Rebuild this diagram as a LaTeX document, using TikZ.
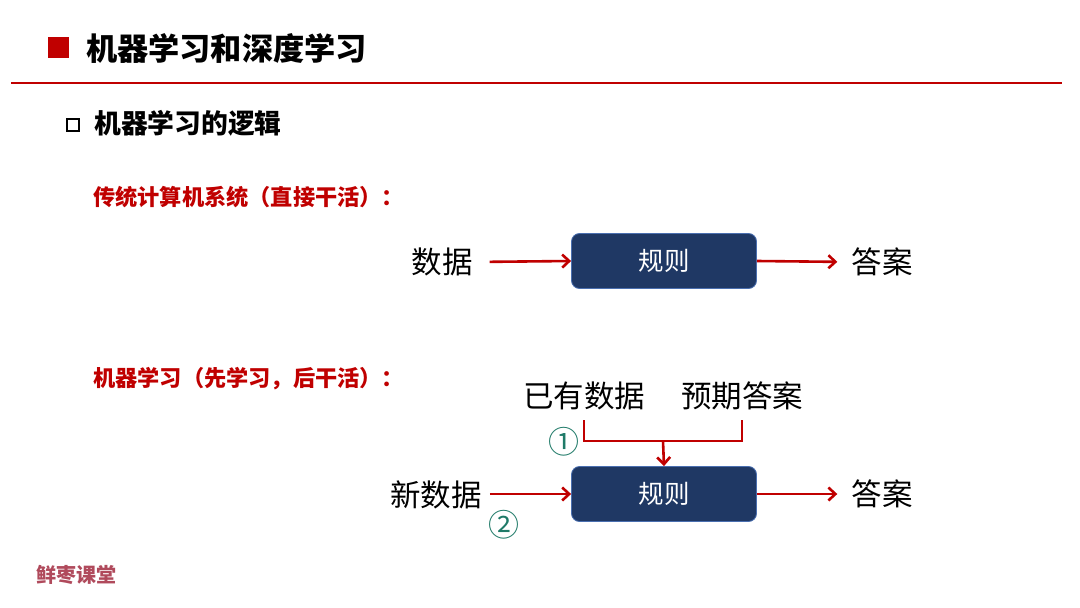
\documentclass[tikz,border=0pt]{standalone}
\usepackage{fontspec}
\setmainfont{Noto Sans CJK SC}
\usetikzlibrary{arrows.meta}
\definecolor{pptred}{HTML}{C00000}
\definecolor{navy}{HTML}{1F3864}
\definecolor{boxedge}{HTML}{4A6FB0}
\definecolor{numgreen}{HTML}{1F7A68}
\definecolor{markred}{HTML}{B04A5C}
\tikzset{
  txt/.style={inner sep=0pt, font=\fontsize{30.5}{34}\selectfont},
  rulebox/.style={draw=boxedge, line width=0.8pt, fill=navy, rounded corners=8pt,
    minimum width=185pt, minimum height=55pt, inner sep=0pt, text=white,
    font=\fontsize{25.5}{30}\selectfont},
  arr/.style={draw=pptred, line width=2.6pt, -{Straight Barb[length=7pt,width=13pt]}},
  rline/.style={draw=pptred, line width=2.6pt},
  num/.style={inner sep=0pt, text=numgreen, font=\fontsize{31}{34}\selectfont},
  subhead/.style={anchor=west, inner sep=0pt, text=pptred, font=\bfseries\fontsize{22.2}{26}\selectfont},
}
\begin{document}
\begin{tikzpicture}[x=1pt,y=-1pt]
\useasboundingbox[fill=white] (0,0) rectangle (1080,608);
% header
\fill[pptred] (48,37) rectangle (69,58);
\node[anchor=west, inner sep=0pt, font=\bfseries\fontsize{31.2}{36}\selectfont] (title) at (86,48) {机器学习和深度学习};
\draw[pptred, line width=2pt] (11,83) -- (1062,83);
\draw[black, line width=2.4pt] (67,119) rectangle (79,131);
\node[anchor=west, inner sep=0pt, font=\bfseries\fontsize{26.8}{31}\selectfont] (sub) at (94,123) {机器学习的逻辑};
\node[subhead] (h1) at (93,197) {传统计算机系统（直接干活）：};
\node[subhead] (h2) at (93,379) {机器学习（先学习，后干活）：};
% top row
\node[rulebox] (r1) at (664,261) {规则};
\node[txt] (d1) at (442,262) {数据};
\node[txt] (a1) at (882,262) {答案};
\draw[arr, shorten <=17pt] (d1.east) -- (r1.west);
\draw[arr, shorten >=14pt] (r1.east) -- (a1.west);
% bottom row
\node[rulebox] (r2) at (664,494) {规则};
\node[txt] (d2) at (436,495) {新数据};
\node[txt] (a2) at (882,494) {答案};
\node[txt] (k1) at (584,396) {已有数据};
\node[txt] (k2) at (742,396) {预期答案};
\coordinate (j) at (663,441);
\draw[rline, shorten <=10pt] (k1.south) |- (j);
\draw[rline, shorten <=10pt] (k2.south) |- (j);
\draw[arr] (j) -- (r2.north);
\draw[arr, shorten <=8pt] (d2.east |- r2.west) -- (r2.west);
\draw[arr, shorten >=14pt] (r2.east) -- (a2.west);
\node[num] (n1) at (564,442) {①};
\node[num] (n2) at (504,525) {②};
% watermark
\node[anchor=west, inner sep=0pt, text=markred, font=\bfseries\fontsize{20}{24}\selectfont] (wm) at (36,575) {鲜枣课堂};
\end{tikzpicture}
\end{document}
